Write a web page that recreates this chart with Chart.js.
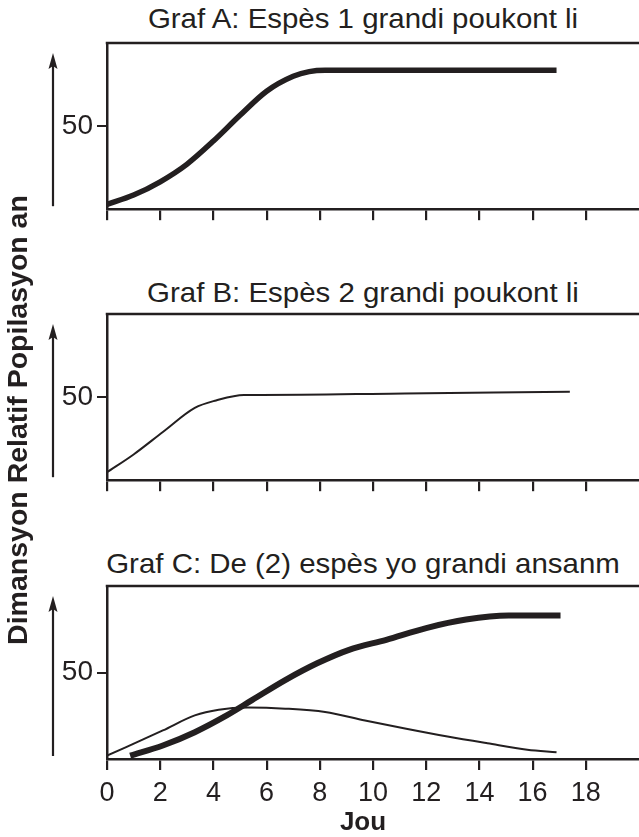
<!DOCTYPE html>
<html><head><meta charset="utf-8">
<script src="https://cdn.jsdelivr.net/npm/chart.js@4.4.1/dist/chart.umd.min.js"></script>
<style>
html,body{margin:0;padding:0;background:#fff;overflow:hidden}
#wrap{position:relative;width:639px;height:837px;overflow:hidden;font-family:"Liberation Sans",Arial,sans-serif;color:#231f20}
.panel{position:absolute;left:0;width:639px}
.title{position:absolute;left:0;width:726px;text-align:center;font-size:27.5px;line-height:27.5px;white-space:nowrap;transform:scaleX(1.07);transform-origin:363px 0}
#ylab{position:absolute;left:-233px;top:405px;width:500px;height:30px;line-height:30px;text-align:center;font-weight:bold;font-size:28.5px;transform:rotate(-90deg);white-space:nowrap}
#xlab{position:absolute;left:0;width:726px;top:808px;text-align:center;font-weight:bold;font-size:26px;line-height:26px}
</style></head>
<body>
<div id="wrap">
  <div class="title" id="tA"></div>
  <div class="title" id="tB"></div>
  <div class="title" id="tC"></div>
  <canvas class="panel" id="cA" width="639" height="230" style="top:0px"></canvas>
  <canvas class="panel" id="cB" width="639" height="230" style="top:271px"></canvas>
  <canvas class="panel" id="cC" width="639" height="270" style="top:543px"></canvas>
  <div id="ylab"></div>
  <div id="xlab"></div>
</div>
<script>
// ---- data ----
const titles = ["Graf A: Espès 1 grandi poukont li", "Graf B: Espès 2 grandi poukont li", "Graf C: De (2) espès yo grandi ansanm"];
const yAxisTitle = "Dimansyon Relatif Popilasyon an";
const xAxisTitle = "Jou";
const xTickValues = [0, 2, 4, 6, 8, 10, 12, 14, 16, 18];
const yTickValues = [50];

const aDays = [0, 1, 2, 3, 4, 5, 6, 7, 7.6, 8.2, 16.9];
const aPop  = [2.9, 8.5, 16.5, 27, 41, 56.5, 71, 80, 82.8, 83.6, 83.6];

const bDays = [0, 1, 2.1, 3.3, 4.1, 5.15, 5.8, 11.2, 17.4];
const bPop  = [4.8, 15.5, 29, 43.5, 48, 51.3, 51.3, 52.2, 53.2];

const c1Days = [0.87, 2.1, 3.3, 4.5, 5.45, 6.7, 7.9, 9.1, 10.5, 12, 13.5, 15.1, 17.05];
const c1Pop  = [1.9, 7.8, 15.5, 25.2, 34, 45.6, 55.3, 63.1, 68.9, 75.7, 80.6, 82.9, 82.9];

const c2Days = [0, 2.1, 3.3, 4.2, 5.3, 6.7, 8.2, 9.7, 11.25, 12.8, 14.3, 15.8, 16.9];
const c2Pop  = [1.9, 16.5, 25.2, 28.5, 29.7, 29.1, 27.2, 22.3, 17.5, 13, 9.1, 5.4, 3.9];

// ---- layout ----
const INK = '#231f20';
const FONT = '"Liberation Sans", Arial, sans-serif';
document.getElementById('tA').textContent = titles[0];
document.getElementById('tB').textContent = titles[1];
document.getElementById('tC').textContent = titles[2];
document.getElementById('tA').style.top = '5px';
document.getElementById('tB').style.top = '279px';
document.getElementById('tC').style.top = '550px';
document.getElementById('ylab').textContent = yAxisTitle;
document.getElementById('xlab').textContent = xAxisTitle;

const pts = (xs, ys) => xs.map((x, i) => ({x: x, y: ys[i]}));

const framePlugin = {
  id: 'frame',
  afterDraw(chart) {
    const {ctx, chartArea: a} = chart;
    ctx.save();
    ctx.strokeStyle = INK; ctx.fillStyle = INK;
    ctx.lineWidth = 2.5;
    ctx.beginPath();
    ctx.moveTo(a.left - 1.25, a.top);
    ctx.lineTo(chart.width, a.top);
    ctx.stroke();
    // arrow
    const ax = 53;
    const tipY = a.top + 10;
    ctx.lineWidth = 2.2;
    ctx.beginPath();
    ctx.moveTo(ax, a.bottom - 3);
    ctx.lineTo(ax, tipY + 10);
    ctx.stroke();
    ctx.beginPath();
    ctx.moveTo(ax, tipY);
    ctx.lineTo(ax - 4.5, tipY + 16);
    ctx.lineTo(ax, tipY + 13);
    ctx.lineTo(ax + 4.5, tipY + 16);
    ctx.closePath();
    ctx.fill();
    ctx.restore();
  }
};

function makePanel(id, datasets, padTop, areaH, showX) {
  const canvas = document.getElementById(id);
  new Chart(canvas, {
    type: 'line',
    data: {datasets: datasets},
    options: {
      responsive: false, animation: false, events: [],
      layout: {padding: {top: padTop, left: 0, right: 0, bottom: 0}},
      plugins: {legend: {display: false}, tooltip: {enabled: false}, title: {display: false}},
      elements: {point: {radius: 0}},
      scales: {
        x: {
          type: 'linear', min: 0, max: 20,
          afterBuildTicks: s => { s.ticks = xTickValues.map(v => ({value: v})); },
          afterFit: s => { s.height = canvas.height - padTop - areaH; },
          ticks: {display: showX, font: {size: 27, family: FONT}, color: INK, padding: 7.5, maxRotation: 0, autoSkip: false},
          grid: {drawOnChartArea: false, drawTicks: true, tickLength: 11, lineWidth: 2.2, color: INK},
          border: {display: true, width: 2.5, color: INK}
        },
        y: {
          min: 0, max: 100,
          afterBuildTicks: s => { s.ticks = yTickValues.map(v => ({value: v})); },
          afterFit: s => { s.width = 107; },
          ticks: {font: {size: 28, family: FONT}, color: INK, padding: 4},
          grid: {drawOnChartArea: false, drawTicks: true, tickLength: 10, lineWidth: 2, color: INK},
          border: {display: true, width: 2.5, color: INK}
        }
      }
    },
    plugins: [framePlugin]
  });
}

const lineDs = (data, w) => ({data: data, borderColor: INK, borderWidth: w, fill: false, cubicInterpolationMode: 'monotone', pointRadius: 0, borderCapStyle: 'butt'});

makePanel('cA', [lineDs(pts(aDays, aPop), 5.5)], 43, 171, false);
makePanel('cB', [lineDs(pts(bDays, bPop), 2)], 43, 172, false);
makePanel('cC', [lineDs(pts(c2Days, c2Pop), 2), lineDs(pts(c1Days, c1Pop), 6)], 43, 173, true);
</script>
</body></html>
